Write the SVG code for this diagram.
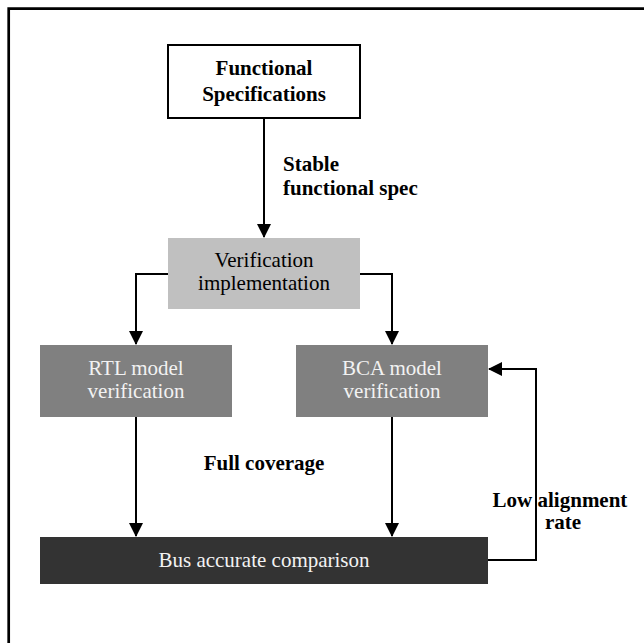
<svg xmlns="http://www.w3.org/2000/svg" width="644" height="643" viewBox="0 0 644 643">
<style>
text{font-family:"Liberation Serif","Times New Roman",serif;font-size:21px}
.b{font-weight:bold;fill:#000}
.c{text-anchor:middle}
.lt{fill:#f2f2f2}
.ln{fill:none;stroke:#000;stroke-width:2}
</style>
<defs>
<marker id="ah" markerWidth="14" markerHeight="14" refX="13" refY="7" orient="auto" markerUnits="userSpaceOnUse">
<path d="M0,0 L14,7 L0,14 Z" fill="#000"/>
</marker>
</defs>
<rect width="644" height="643" fill="#fff"/>
<path d="M8.7,643 V8.7 H644" fill="none" stroke="#000" stroke-width="2.7"/>
<g id="connectors">
<path class="ln" d="M264,118 V237" marker-end="url(#ah)"/>
<path class="ln" d="M168,274 H136 V344" marker-end="url(#ah)"/>
<path class="ln" d="M360,274 H392 V344" marker-end="url(#ah)"/>
<path class="ln" d="M136,417 V536" marker-end="url(#ah)"/>
<path class="ln" d="M392,417 V536" marker-end="url(#ah)"/>
<path class="ln" d="M488,560 H536 V369 H489" marker-end="url(#ah)"/>
<text class="b" x="283" y="171">Stable</text>
<text class="b" x="283" y="195">functional spec</text>
<text class="b c" x="264" y="470">Full coverage</text>
<text class="b c" x="560" y="507">Low alignment</text>
<text class="b c" x="563" y="529">rate</text>
</g>
<g id="functional-spec">
<rect x="168" y="45" width="192" height="73" fill="#fff" stroke="#000" stroke-width="2"/>
<text class="b c" x="264" y="75">Functional</text>
<text class="b c" x="264" y="101">Specifications</text>
</g>
<g id="verification-impl">
<rect x="168" y="238" width="192" height="71" fill="#c0c0c0"/>
<text class="c" x="264" y="267">Verification</text>
<text class="c" x="264" y="290">implementation</text>
</g>
<g id="rtl">
<rect x="40" y="345" width="192" height="72" fill="#808080"/>
<text class="c lt" x="136" y="375">RTL model</text>
<text class="c lt" x="136" y="398">verification</text>
</g>
<g id="bca">
<rect x="296" y="345" width="192" height="72" fill="#808080"/>
<text class="c lt" x="392" y="375">BCA model</text>
<text class="c lt" x="392" y="398">verification</text>
</g>
<g id="bus">
<rect x="40" y="537" width="448" height="47" fill="#333333"/>
<text class="c lt" x="264" y="567">Bus accurate comparison</text>
</g>
</svg>
